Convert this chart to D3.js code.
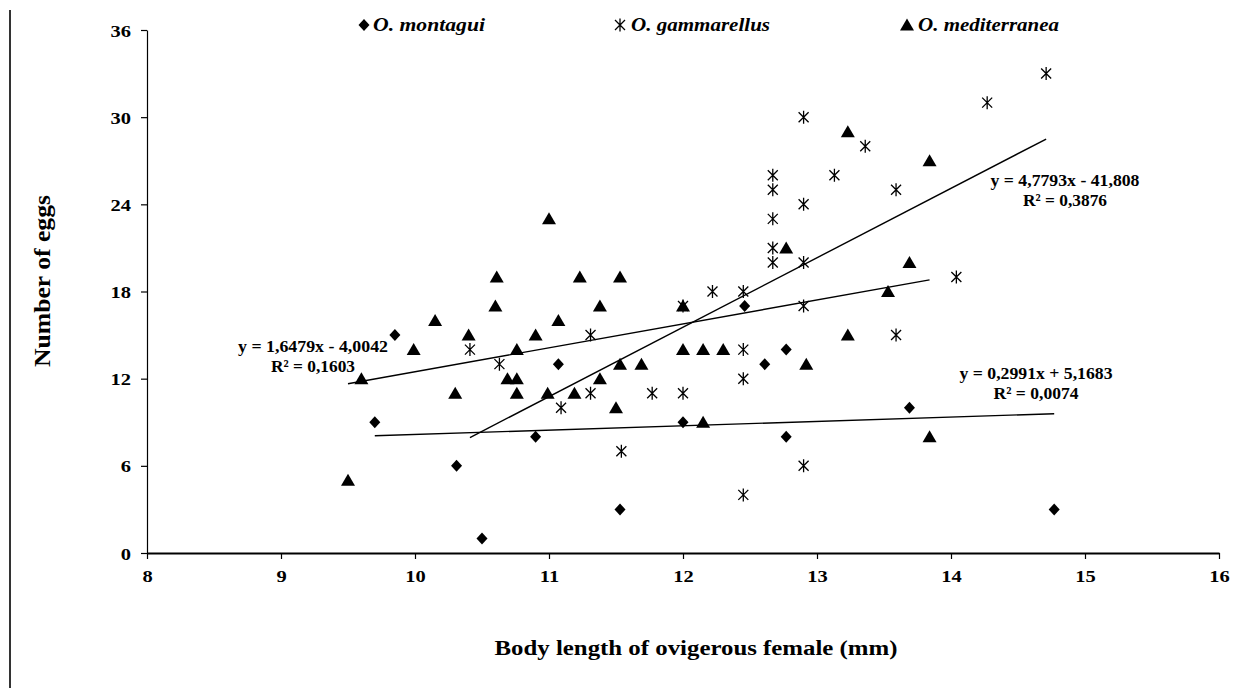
<!DOCTYPE html>
<html>
<head>
<meta charset="utf-8">
<script src="https://cdn.jsdelivr.net/npm/d3@7"></script>
<style>
  body { margin: 0; background: #fff; }
  svg { display: block; }
  text { font-family: "Liberation Serif", "Times New Roman", serif; font-weight: bold; fill: #000; }
</style>
</head>
<body>
<svg id="chart" width="1260" height="688"></svg>
<script>
// Body length (mm) and egg counts of ovigerous females, per species
const montaguiLength = [9.70, 9.85, 10.31, 10.50, 10.90, 11.07, 11.53, 12.00, 12.46, 12.61, 12.77, 12.77, 13.69, 14.77];
const montaguiEggs   = [9, 15, 6, 1, 8, 13, 3, 9, 17, 13, 14, 8, 10, 3];

const gammarellusLength = [10.41, 10.63, 11.09, 11.31, 11.31, 11.54, 11.77, 12.00, 12.00, 12.22, 12.45, 12.45, 12.45, 12.45,
                           12.67, 12.67, 12.67, 12.67, 12.67, 12.90, 12.90, 12.90, 12.90, 12.90, 13.13, 13.36, 13.59, 13.59,
                           14.04, 14.27, 14.71];
const gammarellusEggs   = [14, 13, 10, 15, 11, 7, 11, 11, 17, 18, 18, 14, 12, 4,
                           26, 25, 23, 21, 20, 30, 24, 20, 17, 6, 26, 28, 25, 15,
                           19, 31, 33];

const mediterraneaLength = [9.50, 9.60, 9.99, 10.15, 10.30, 10.40, 10.60, 10.61, 10.69, 10.76, 10.76, 10.76, 10.90, 10.99,
                            11.00, 11.07, 11.19, 11.23, 11.38, 11.38, 11.50, 11.53, 11.53, 11.69, 12.00, 12.00, 12.15, 12.30,
                            12.15, 12.77, 12.92, 13.23, 13.23, 13.53, 13.69, 13.84, 13.84];
const mediterraneaEggs   = [5, 12, 14, 16, 11, 15, 17, 19, 12, 12, 14, 11, 15, 11,
                            23, 16, 11, 19, 17, 12, 10, 19, 13, 13, 17, 14, 14, 14,
                            9, 21, 13, 29, 15, 18, 20, 27, 8];

const speciesNames = ["O. montagui", "O. gammarellus", "O. mediterranea"];
// Linear fits: slope, intercept, R²
const fitSlopes     = [0.2991, 4.7793, 1.6479];
const fitIntercepts = [5.1683, -41.808, -4.0042];
const fitR2         = [0.0074, 0.3876, 0.1603];

const xTicks = [8, 9, 10, 11, 12, 13, 14, 15, 16];
const yTicks = [0, 6, 12, 18, 24, 30, 36];
const xTitle = "Body length of ovigerous female (mm)";
const yTitle = "Number of eggs";

const svg = d3.select("#chart");
const plot = { left: 147, right: 1219, top: 30, bottom: 553 };

const x = d3.scaleLinear().domain([8, 16]).range([plot.left, plot.right]);
const y = d3.scaleLinear().domain([0, 36]).range([plot.bottom, plot.top]);

// Stretch a text element horizontally to a given advance width
function fit(sel, w) {
  sel.attr("textLength", w).attr("lengthAdjust", "spacingAndGlyphs");
}

// Left frame rule
svg.append("line").attr("x1", 10).attr("x2", 10).attr("y1", 10).attr("y2", 688)
  .attr("stroke", "#333").attr("stroke-width", 2);

// Axes
const gx = svg.append("g").attr("transform", `translate(0,${plot.bottom})`)
  .call(d3.axisBottom(x).tickValues(xTicks).tickSize(6).tickSizeOuter(0).tickPadding(12).tickFormat(d3.format("d")));
gx.select(".domain").attr("stroke", "#000").attr("stroke-width", 2);
gx.selectAll(".tick line").attr("stroke", "#000").attr("stroke-width", 1.2);
gx.selectAll(".tick text").style("font-size", "16px");

const gy = svg.append("g").attr("transform", `translate(${plot.left},0)`)
  .call(d3.axisLeft(y).tickValues(yTicks).tickSize(6).tickSizeOuter(0).tickPadding(10).tickFormat(d3.format("d")));
gy.select(".domain").attr("stroke", "#000").attr("stroke-width", 1.2);
gy.selectAll(".tick line").attr("stroke", "#000").attr("stroke-width", 1.2);
gy.selectAll(".tick text").style("font-size", "16px").attr("dy", "0.38em");

svg.selectAll(".tick text").each(function () {
  const w = this.getComputedTextLength();
  d3.select(this).call(fit, w * 1.28);
});

// Axis titles
svg.append("text").attr("x", 696).attr("y", 655).attr("text-anchor", "middle")
  .style("font-size", "20px").text(xTitle).call(fit, 403);
svg.append("text").attr("transform", "translate(50,281) rotate(-90)").attr("text-anchor", "middle")
  .style("font-size", "23px").text(yTitle).call(fit, 172);

// Marker shapes
const markers = {
  diamond: "M0,-6L5.5,0L0,6L-5.5,0Z",
  star: "M-5,-5L5,5M-5,5L5,-5M0,-6.5L0,6.5",
  triangle: "M0,-6.5L7,5.5L-7,5.5Z"
};

function drawSeries(xs, ys, shape) {
  const pts = xs.map((v, i) => [v, ys[i]]);
  const g = svg.append("g");
  const p = g.selectAll("path").data(pts).join("path")
    .attr("transform", d => `translate(${x(d[0])},${y(d[1])})`)
    .attr("d", markers[shape]);
  if (shape === "star") p.attr("fill", "none").attr("stroke", "#000").attr("stroke-width", 1.3);
  else p.attr("fill", "#000");
}

drawSeries(montaguiLength, montaguiEggs, "diamond");
drawSeries(gammarellusLength, gammarellusEggs, "star");
drawSeries(mediterraneaLength, mediterraneaEggs, "triangle");

// Trend lines over each species' observed length range
const seriesLengths = [montaguiLength, gammarellusLength, mediterraneaLength];
const line = d3.line().x(d => x(d[0])).y(d => y(d[1]));
seriesLengths.forEach((xs, i) => {
  const [x0, x1] = d3.extent(xs);
  const f = v => fitSlopes[i] * v + fitIntercepts[i];
  svg.append("path").datum([[x0, f(x0)], [x1, f(x1)]])
    .attr("d", line).attr("fill", "none").attr("stroke", "#000").attr("stroke-width", 1.4);
});

// Equation labels
const dec = v => String(v).replace(".", ",");
const eqText = i => `y = ${dec(fitSlopes[i])}x ${fitIntercepts[i] < 0 ? "-" : "+"} ${dec(Math.abs(fitIntercepts[i]))}`;
const eqLayout = [
  { cx: 1036, y1: 379, y2: 399, w1: 153, w2: 85 },
  { cx: 1065, y1: 186, y2: 206, w1: 149, w2: 84 },
  { cx: 313,  y1: 352, y2: 372, w1: 150, w2: 84 }
];
eqLayout.forEach((L, i) => {
  svg.append("text").attr("x", L.cx).attr("y", L.y1).attr("text-anchor", "middle")
    .style("font-size", "17px").text(eqText(i)).call(fit, L.w1);
  svg.append("text").attr("x", L.cx).attr("y", L.y2).attr("text-anchor", "middle")
    .style("font-size", "17px").text(`R² = ${dec(fitR2[i])}`).call(fit, L.w2);
});

// Legend
const legendLayout = [
  { mx: 364, tx: 373, w: 112, shape: "diamond" },
  { mx: 620, tx: 631, w: 139, shape: "star" },
  { mx: 907, tx: 918, w: 141, shape: "triangle" }
];
legendLayout.forEach((L, i) => {
  const m = svg.append("path").attr("transform", `translate(${L.mx},25)`).attr("d", markers[L.shape]);
  if (L.shape === "star") m.attr("fill", "none").attr("stroke", "#000").attr("stroke-width", 1.3);
  else m.attr("fill", "#000");
  svg.append("text").attr("x", L.tx).attr("y", 31).style("font-size", "19px").style("font-style", "italic")
    .text(speciesNames[i]).call(fit, L.w);
});
</script>
</body>
</html>
